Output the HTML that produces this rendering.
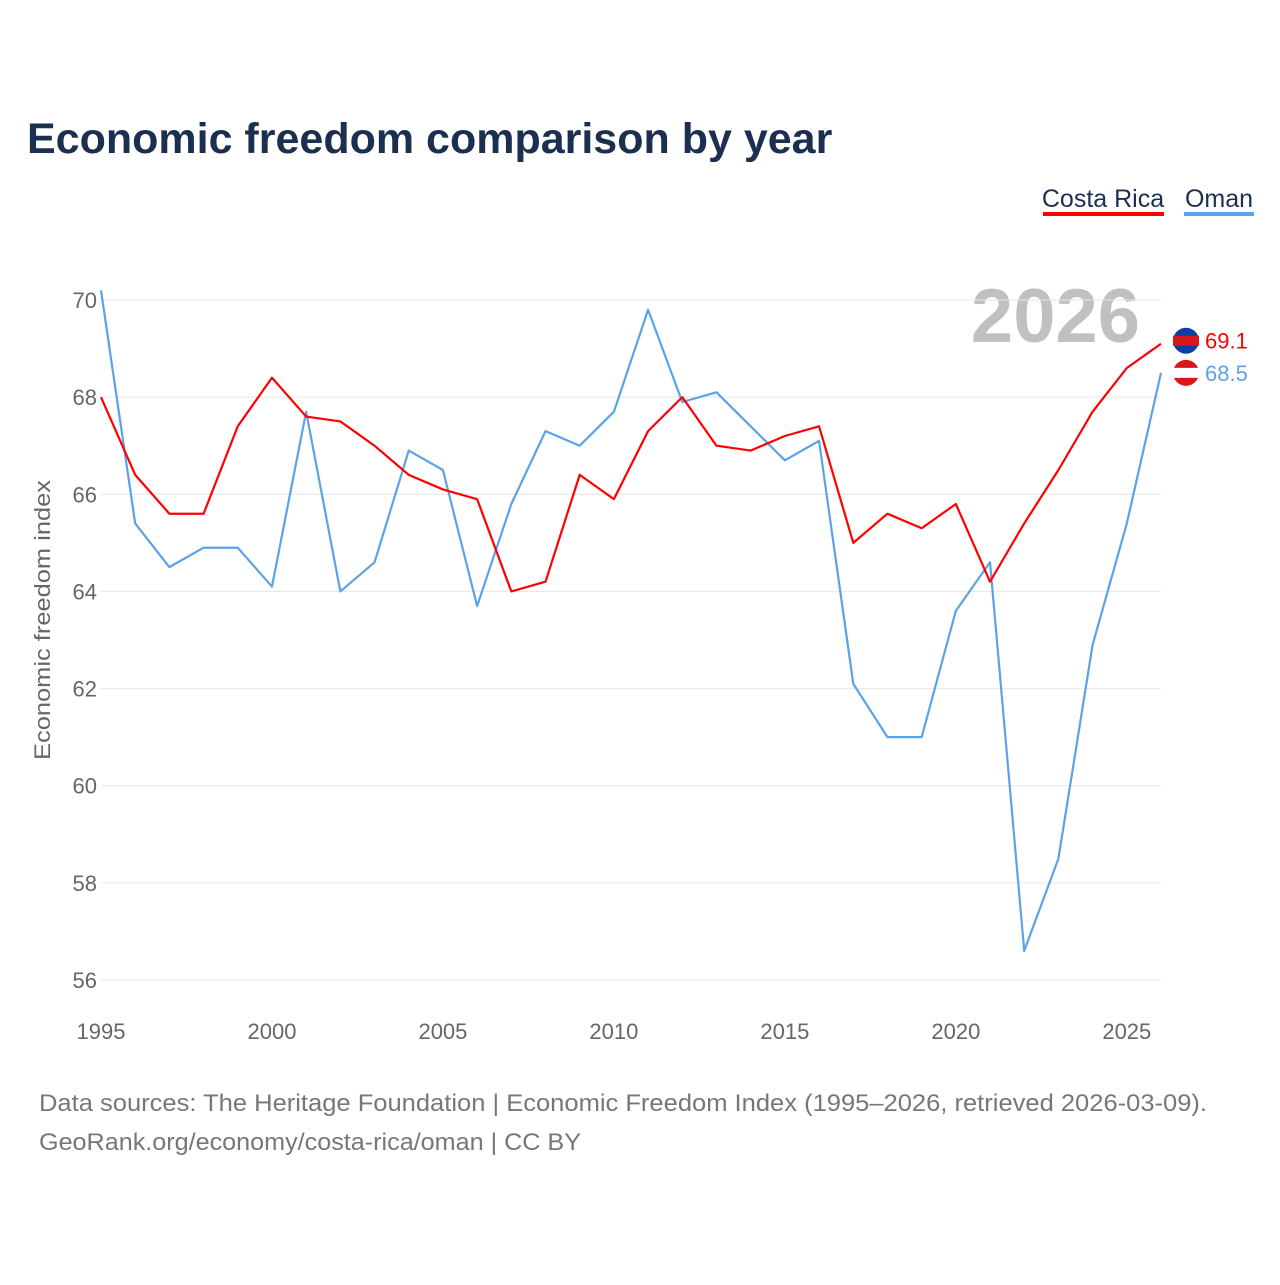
<!DOCTYPE html>
<html><head><meta charset="utf-8">
<style>
html,body{margin:0;padding:0;background:#fff;}
body{width:1280px;height:1280px;overflow:hidden;font-family:"Liberation Sans",sans-serif;}
</style></head>
<body>
<svg id="chart" width="1280" height="1280" xmlns="http://www.w3.org/2000/svg" font-family="Liberation Sans, sans-serif">
<text x="27" y="153" font-size="43" font-weight="bold" fill="#1b2f50">Economic freedom comparison by year</text>
<g>
<text x="1103" y="207" font-size="25" fill="#1b2f50" text-anchor="middle">Costa Rica</text>
<rect x="1043" y="212" width="121" height="4" fill="#ff0000"/>
<text x="1219" y="207" font-size="25" fill="#1b2f50" text-anchor="middle">Oman</text>
<rect x="1184" y="212" width="70" height="4" fill="#5ba3e8"/>
</g>
<text x="1140" y="342" font-size="76" font-weight="bold" fill="#c0c0c0" text-anchor="end">2026</text>
<text transform="translate(50,620) rotate(-90)" font-size="22" fill="#666" text-anchor="middle" textLength="280" lengthAdjust="spacingAndGlyphs">Economic freedom index</text>
<g id="grid"></g><g id="yticks"></g><g id="xticks"></g><g id="lines"></g>
<text x="39" y="1111" font-size="24" fill="#777" textLength="1168" lengthAdjust="spacingAndGlyphs">Data sources: The Heritage Foundation | Economic Freedom Index (1995–2026, retrieved 2026-03-09).</text>
<text x="39" y="1150" font-size="24" fill="#777" textLength="542" lengthAdjust="spacingAndGlyphs">GeoRank.org/economy/costa-rica/oman | CC BY</text>
</svg>
<script>
const years=[1995,1996,1997,1998,1999,2000,2001,2002,2003,2004,2005,2006,2007,2008,2009,2010,2011,2012,2013,2014,2015,2016,2017,2018,2019,2020,2021,2022,2023,2024,2025,2026];
const costaRica=[68.0,66.4,65.6,65.6,67.4,68.4,67.6,67.5,67.0,66.4,66.1,65.9,64.0,64.2,66.4,65.9,67.3,68.0,67.0,66.9,67.2,67.4,65.0,65.6,65.3,65.8,64.2,65.4,66.5,67.7,68.6,69.1];
const oman=[70.2,65.4,64.5,64.9,64.9,64.1,67.7,64.0,64.6,66.9,66.5,63.7,65.8,67.3,67.0,67.7,69.8,67.9,68.1,67.4,66.7,67.1,62.1,61.0,61.0,63.6,64.6,56.6,58.5,62.9,65.4,68.5];
const yTicks=[56,58,60,62,64,66,68,70];
const xTicks=[1995,2000,2005,2010,2015,2020,2025];
const NS="http://www.w3.org/2000/svg";
const x=v=>101+(v-1995)*(1161-101)/31;
const y=v=>980-(v-56)*(980-300)/14;
function mk(t,a,p){const e=document.createElementNS(NS,t);for(const k in a)e.setAttribute(k,a[k]);p.appendChild(e);return e;}
const grid=document.getElementById('grid'),yt=document.getElementById('yticks'),xt=document.getElementById('xticks'),ln=document.getElementById('lines');
yTicks.forEach(v=>{
 const g=mk('line',{x1:101,x2:1161,y1:y(v),y2:y(v),stroke:'#e6e6e6','stroke-width':1},grid);
 
 
 const t=mk('text',{x:97,y:y(v)+8,'font-size':22,fill:'#666','text-anchor':'end'},yt);t.textContent=v;
 
 
});
xTicks.forEach(v=>{
 const t=mk('text',{x:x(v),y:1039,'font-size':22,fill:'#666','text-anchor':'middle'},xt);t.textContent=v;
 
 
});
function series(data,color,name,dy){
 const p=mk('polyline',{points:data.map((v,i)=>x(years[i])+','+y(v)).join(' '),fill:'none',stroke:color,'stroke-width':2.2,'stroke-linejoin':'round'},ln);
 
 
 const last=data[data.length-1],ly=y(last)+dy;
 const c=mk('circle',{cx:1186,cy:ly,r:13,fill:color==='#ff0000'?'#0b3fa8':'#db161b'},ln);
 
 
 const s=mk('rect',{x:1173,y:ly-5,width:26,height:10,fill:color==='#ff0000'?'#db161b':'#fff'},ln);
 
 
 const t=mk('text',{x:1205,y:ly+8,'font-size':22,fill:color},ln);t.textContent=last.toFixed(1);
 
 
}
series(oman,'#5ba3e8','oman',0);
series(costaRica,'#ff0000','costa-rica',-3);
</script>
</body></html>
